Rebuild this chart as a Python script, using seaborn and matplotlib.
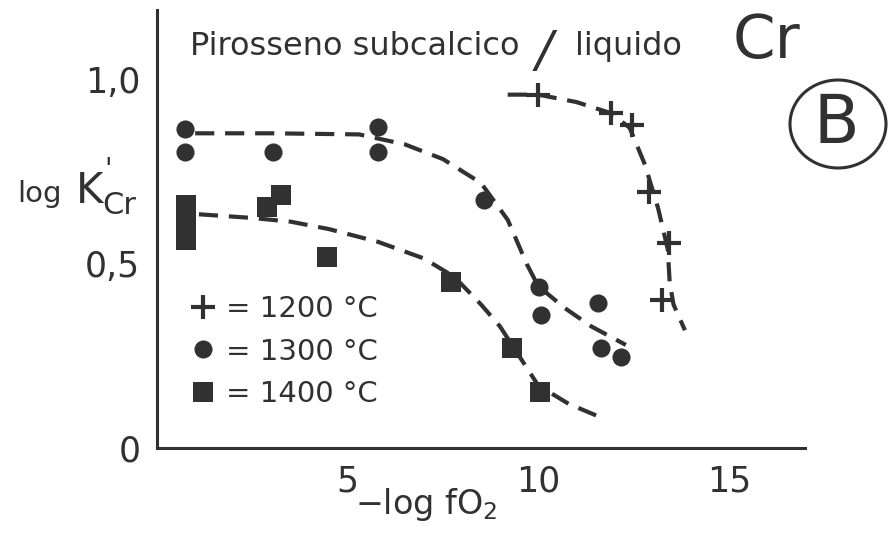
import numpy as np
import pandas as pd
import matplotlib
matplotlib.use("Agg")
import matplotlib.pyplot as plt
from matplotlib.lines import Line2D
from matplotlib.patches import Ellipse
import seaborn as sns

# Measured partition coefficients, log K'Cr versus -log fO2
x_1200 = [10.0, 11.92, 12.45, 12.92, 13.42, 13.24]
y_1200 = [0.959, 0.910, 0.878, 0.696, 0.557, 0.402]
x_1300 = [0.74, 0.74, 3.05, 5.79, 5.79, 8.58, 10.03, 10.08, 11.58, 11.66, 12.18]
y_1300 = [0.867, 0.804, 0.804, 0.872, 0.804, 0.674, 0.438, 0.361, 0.394, 0.272, 0.247]
x_1400 = [0.76, 0.76, 0.76, 2.89, 3.24, 4.47, 7.71, 9.32, 10.05]
y_1400 = [0.660, 0.614, 0.565, 0.655, 0.688, 0.519, 0.451, 0.272, 0.152]

# Hand-drawn trend curves for each temperature
curve_x_1200 = [9.2, 10.0, 11.0, 11.9, 12.4, 12.8, 13.15, 13.4, 13.45, 13.55, 13.85]
curve_y_1200 = [0.96, 0.96, 0.94, 0.91, 0.87, 0.77, 0.65, 0.54, 0.45, 0.39, 0.32]
curve_x_1300 = [1.0, 3.0, 5.3, 6.5, 7.5, 8.5, 9.2, 9.7, 10.0, 10.7, 11.4, 12.3]
curve_y_1300 = [0.855, 0.855, 0.852, 0.825, 0.785, 0.72, 0.62, 0.50, 0.44, 0.38, 0.33, 0.28]
curve_x_1400 = [1.1, 2.5, 3.5, 4.5, 5.8, 7.0, 7.8, 8.5, 9.0, 9.5, 10.0, 10.8, 11.6]
curve_y_1400 = [0.635, 0.625, 0.615, 0.595, 0.56, 0.515, 0.465, 0.39, 0.33, 0.25, 0.17, 0.12, 0.085]

temps = ["1200", "1300", "1400"]
legend_labels = ["= 1200 °C", "= 1300 °C", "= 1400 °C"]

x_ticks = [5, 10, 15]
x_ticklabels = ["5", "10", "15"]
y_ticks = [round(v, 1) for v in np.arange(0, 1.11, 0.1)]
y_ticklabels = {0.0: "0", 0.5: "0,5", 1.0: "1,0"}

ink = "#313131"

sns.set_theme(style="white")
plt.rcParams["font.family"] = ["DejaVu Sans"]
plt.rcParams["mathtext.default"] = "regular"

W, H = 893, 537
fig = plt.figure(figsize=(W / 100, H / 100), dpi=100)
fig.patch.set_facecolor("white")
ax = fig.add_axes([157 / W, 89 / H, 648 / W, 438 / H])
ax.set_facecolor("white")


def fx(px):
    return px / W


def fy(py):
    return 1 - py / H


points = pd.DataFrame({
    "x": x_1200 + x_1300 + x_1400,
    "y": y_1200 + y_1300 + y_1400,
    "T": ["1200"] * len(x_1200) + ["1300"] * len(x_1300) + ["1400"] * len(x_1400),
})
curves = pd.DataFrame({
    "x": curve_x_1200 + curve_x_1300 + curve_x_1400,
    "y": curve_y_1200 + curve_y_1300 + curve_y_1400,
    "T": ["1200"] * len(curve_x_1200) + ["1300"] * len(curve_x_1300) + ["1400"] * len(curve_x_1400),
})

dash = (0, (4.6, 2.6))
for t in temps:
    sns.lineplot(data=curves[curves["T"] == t], x="x", y="y", sort=False,
                 estimator=None, color=ink, lw=3.0, linestyle=dash, ax=ax)

sns.scatterplot(data=points[points["T"] == "1200"], x="x", y="y", marker="+",
                s=300, linewidth=3.0, color=ink, ax=ax, zorder=5)
sns.scatterplot(data=points[points["T"] == "1300"], x="x", y="y", marker="o",
                s=170, linewidth=0, color=ink, ax=ax, zorder=5)
sns.scatterplot(data=points[points["T"] == "1400"], x="x", y="y", marker="s",
                s=200, linewidth=0, color=ink, ax=ax, zorder=5)

ax.set_xlim(0, 17)
ax.set_ylim(0, 1.19)
ax.set_xlabel("")
ax.set_ylabel("")

for side in ["top", "right"]:
    ax.spines[side].set_visible(False)
for side in ["left", "bottom"]:
    ax.spines[side].set_color(ink)
    ax.spines[side].set_linewidth(2.2)

ax.set_xticks(x_ticks)
ax.set_xticklabels(x_ticklabels)
ax.set_yticks(y_ticks)
ax.set_yticklabels([y_ticklabels.get(v, "") for v in y_ticks])
ax.tick_params(axis="both", direction="in", colors=ink, width=2.0, labelsize=25)
ax.tick_params(axis="y", length=11, pad=12)
ax.tick_params(axis="x", length=12, pad=12)

# Legend of symbols
handles = [
    Line2D([], [], marker="+", ms=17, mew=3.0, ls="none", color=ink),
    Line2D([], [], marker="o", ms=13, mew=0, ls="none", color=ink),
    Line2D([], [], marker="s", ms=14, mew=0, ls="none", color=ink),
]
leg = ax.legend(handles, legend_labels, loc="upper left",
                bbox_to_anchor=(fx(190), fy(295)), bbox_transform=fig.transFigure,
                frameon=False, fontsize=21, handlelength=0.9, handletextpad=0.35,
                labelspacing=0.5, borderpad=0, borderaxespad=0)
for txt in leg.get_texts():
    txt.set_color(ink)

# Title text
fig.text(fx(190), fy(55), "Pirosseno subcalcico", fontsize=23, color=ink, va="baseline")
fig.text(fx(536), fy(66), "/", fontsize=36, fontstyle="italic", color=ink, va="baseline")
fig.text(fx(575), fy(55), "liquido", fontsize=23, color=ink, va="baseline")
fig.text(fx(733), fy(58), "Cr", fontsize=44, color=ink, va="baseline")

# Circled panel letter
fig.add_artist(Ellipse((fx(838), fy(124)), 96 / W, 88 / H, transform=fig.transFigure,
                       fill=False, lw=2.2, ec=ink))
fig.text(fx(836), fy(124), "B", fontsize=48, color=ink, ha="center", va="center")

# Axis titles
fig.text(fx(17), fy(202), "log", fontsize=21, color=ink, va="baseline")
fig.text(fx(76), fy(203), "K", fontsize=30, color=ink, va="baseline")
fig.text(fx(104), fy(178), "'", fontsize=20, color=ink, va="baseline")
fig.text(fx(102), fy(214), "Cr", fontsize=22, color=ink, va="baseline")

fig.text(fx(355), fy(514), "−log fO$_2$", fontsize=24, color=ink, va="baseline")

fig.savefig("out.png", dpi=100, facecolor="white")
